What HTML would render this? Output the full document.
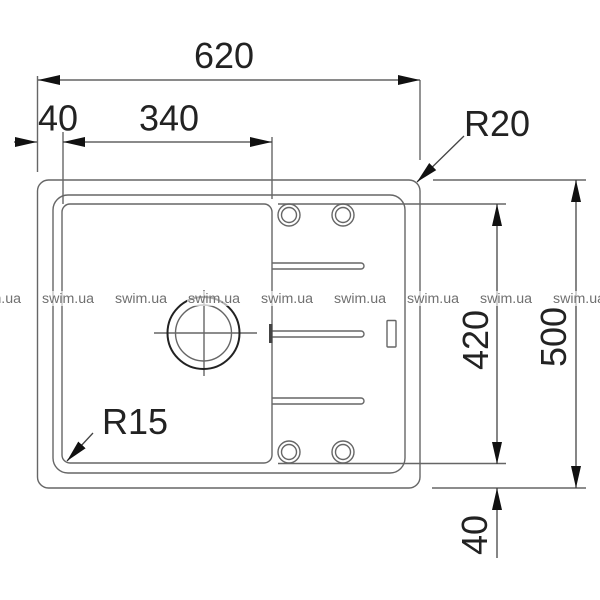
<!DOCTYPE html>
<html><head><meta charset="utf-8"><style>
html,body{margin:0;padding:0;background:#fff}
svg{display:block;filter:blur(.35px)}
text{font-family:"Liberation Sans",sans-serif;fill:#222}
text.w{font-size:14.2px;fill:#707070}
</style></head><body>
<svg width="600" height="600" viewBox="0 0 600 600" xmlns="http://www.w3.org/2000/svg">
<rect width="600" height="600" fill="#fff"/>
<defs>
<marker id="a" markerUnits="userSpaceOnUse" markerWidth="24" markerHeight="12" refX="22" refY="5" orient="auto-start-reverse" viewBox="0 0 24 10"><path d="M0 0L22 5L0 10Z" fill="#111"/></marker>
</defs>
<g fill="none" stroke="#666" stroke-width="1.4">
<rect x="37.500" y="180" width="382.500" height="308" rx="11"/>
<rect x="53" y="195" width="352" height="278" rx="15"/>
<rect x="62" y="204" width="210" height="259" rx="8"/>
<path d="M37.500 76V172M63 132V204M272 137V199M420 80V160M278 204H506M433 180H586M278 463.500H506M432 488H586" />
<path d="M272 263H361a3 3 0 0 1 0 6H272M272 331H361a3 3 0 0 1 0 6H272M272 398H361a3 3 0 0 1 0 6H272"/>
<rect x="387" y="320.500" width="9" height="26.500" rx="1"/>
<circle cx="289" cy="215" r="11"/><circle cx="289" cy="215" r="7.500"/>
<circle cx="343" cy="215" r="11"/><circle cx="343" cy="215" r="7.500"/>
<circle cx="289" cy="452" r="11"/><circle cx="289" cy="452" r="7.500"/>
<circle cx="343" cy="452" r="11"/><circle cx="343" cy="452" r="7.500"/>
<circle cx="203.500" cy="333" r="28"/>
<path d="M154 333H257M204 290V376" />
</g>
<circle cx="203.500" cy="333" r="36" fill="none" stroke="#222" stroke-width="2"/>
<rect x="269" y="324" width="3.500" height="19" fill="#444"/>
<g fill="none" stroke="#444" stroke-width="1.3">
<path d="M38 80H420" marker-start="url(#a)" marker-end="url(#a)"/>
<path d="M63 142H272" marker-start="url(#a)" marker-end="url(#a)"/>
<path d="M14 142H37" marker-end="url(#a)"/>
<path d="M497 204V464" marker-start="url(#a)" marker-end="url(#a)"/>
<path d="M576 180V488" marker-start="url(#a)" marker-end="url(#a)"/>
<path d="M497 558V488" marker-end="url(#a)"/>
<path d="M464 136L417 182" marker-end="url(#a)"/>
<path d="M93 433L67 461" marker-end="url(#a)"/>
</g>
<text x="194" y="68" font-size="36">620</text>
<text x="38" y="130.500" font-size="36">40</text>
<text x="139" y="130.500" font-size="36">340</text>
<text x="464" y="136" font-size="36">R20</text>
<text x="102" y="434" font-size="36">R15</text>
<text transform="translate(488 370) rotate(-90)" font-size="36">420</text>
<text transform="translate(566 367) rotate(-90)" font-size="36">500</text>
<text transform="translate(487 555) rotate(-90)" font-size="36">40</text>
<g>
<rect x="-32" y="291" width="56" height="15" fill="#fff" fill-opacity=".65"/><text class="w" x="-31" y="303">swim.ua</text>
<rect x="41" y="291" width="56" height="15" fill="#fff" fill-opacity=".65"/><text class="w" x="42" y="303">swim.ua</text>
<rect x="114" y="291" width="56" height="15" fill="#fff" fill-opacity=".65"/><text class="w" x="115" y="303">swim.ua</text>
<rect x="187" y="291" width="56" height="15" fill="#fff" fill-opacity=".65"/><text class="w" x="188" y="303">swim.ua</text>
<rect x="260" y="291" width="56" height="15" fill="#fff" fill-opacity=".65"/><text class="w" x="261" y="303">swim.ua</text>
<rect x="333" y="291" width="56" height="15" fill="#fff" fill-opacity=".65"/><text class="w" x="334" y="303">swim.ua</text>
<rect x="406" y="291" width="56" height="15" fill="#fff" fill-opacity=".65"/><text class="w" x="407" y="303">swim.ua</text>
<rect x="479" y="291" width="56" height="15" fill="#fff" fill-opacity=".65"/><text class="w" x="480" y="303">swim.ua</text>
<rect x="552" y="291" width="56" height="15" fill="#fff" fill-opacity=".65"/><text class="w" x="553" y="303">swim.ua</text>
</g>
</svg>
</body></html>
